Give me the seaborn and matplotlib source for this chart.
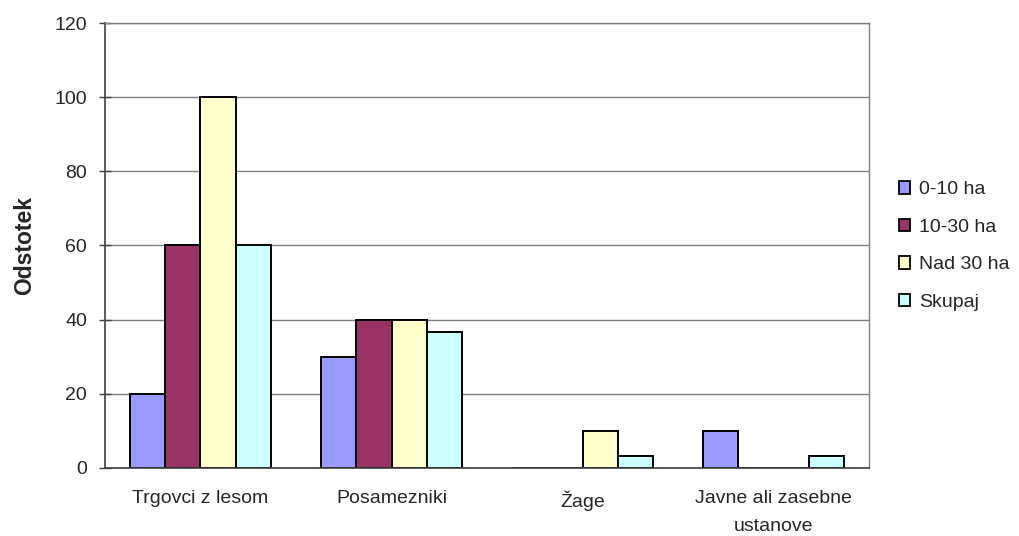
import pandas as pd
import matplotlib.pyplot as plt
import seaborn as sns
from matplotlib.patches import Patch

# chart data
categories = ['Trgovci z lesom', 'Posamezniki', 'Žage', 'Javne ali zasebne\nustanove']
groups = ['0-10 ha', '10-30 ha', 'Nad 30 ha', 'Skupaj']
v_0_10 = [20, 30, 0, 10]
v_10_30 = [60, 40, 0, 0]
v_nad_30 = [100, 40, 10, 0]
v_skupaj = [60, 36.7, 3.3, 3.3]
colors = ['#9999FF', '#993366', '#FFFFCC', '#CCFFFF']

rows = []
for g, vals in zip(groups, [v_0_10, v_10_30, v_nad_30, v_skupaj]):
    for c, v in zip(categories, vals):
        rows.append({'kategorija': c, 'skupina': g, 'odstotek': v})
data = pd.DataFrame(rows)

sns.set_style('white')
plt.rcParams['font.family'] = ['Liberation Sans', 'DejaVu Sans']

fig = plt.figure(figsize=(10.19, 5.36), dpi=100)
ax = fig.add_axes([0.103, 0.127, 0.750, 0.830])

sns.barplot(data=data, x='kategorija', y='odstotek', hue='skupina',
            order=categories, hue_order=groups, palette=colors, saturation=1,
            width=0.74, edgecolor='black', linewidth=1.4, ax=ax, legend=False)

# chart format
ax.set_ylim(0, 120)
ax.set_xlim(-0.5, 3.5)
ax.set_yticks(range(0, 121, 20))
ax.yaxis.grid(True, color='#808080', linewidth=1)
ax.set_axisbelow(True)
ax.set_xlabel('')
ax.set_ylabel('Odstotek', fontsize=16.5, fontweight='bold')
ax.yaxis.set_label_coords(-0.09, 0.5)

ax.tick_params(axis='x', which='major', length=0, labelsize=14, pad=16)
for lbl in ax.get_xticklabels():
    lbl.set_linespacing(1.8)
ax.set_xticks([-0.5, 0.5, 1.5, 2.5, 3.5], minor=True)
ax.tick_params(axis='x', which='minor', length=4, width=1, color='#404040', direction='out')
ax.tick_params(axis='y', length=8, width=1, color='#404040', direction='inout',
               labelsize=14, pad=9, left=True)

for side in ['left', 'bottom']:
    ax.spines[side].set_color('#404040')
    ax.spines[side].set_linewidth(1.2)
for side in ['top', 'right']:
    ax.spines[side].set_color('#808080')
    ax.spines[side].set_linewidth(1)

handles = [Patch(facecolor=c, edgecolor='black', linewidth=1.3) for c in colors]
fig.legend(handles, groups, loc='center left', bbox_to_anchor=(0.882, 0.541),
           frameon=False, fontsize=14, handlelength=0.6, handleheight=0.6,
           handletextpad=0.45, labelspacing=1.05, borderpad=0, borderaxespad=0)

plt.savefig('out.png', dpi=100)
